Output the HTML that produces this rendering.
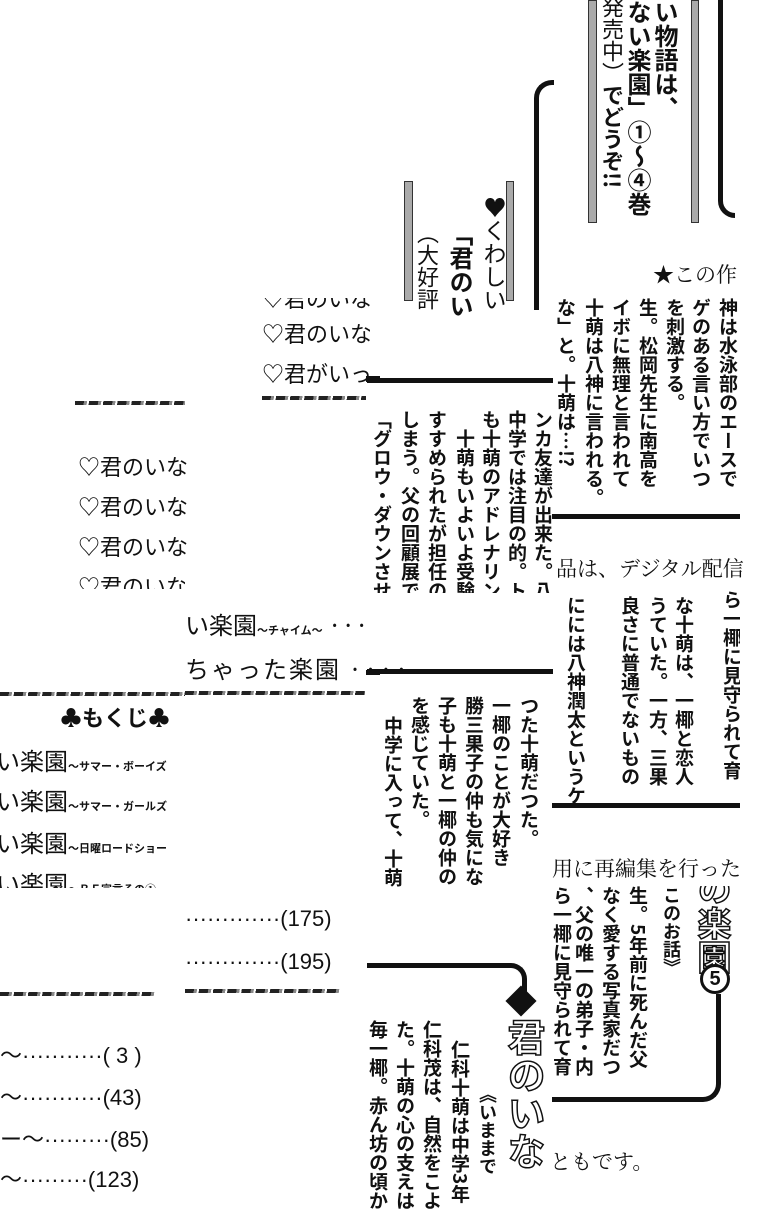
<!DOCTYPE html>
<html><head><meta charset="utf-8">
<style>
body{margin:0;width:760px;height:1200px;background:#fff;position:relative;overflow:hidden;font-family:"Liberation Sans","Noto Sans CJK JP",sans-serif;color:#111}
.a{position:absolute;white-space:nowrap}
.v{position:absolute;writing-mode:vertical-rl;white-space:nowrap;font-family:"Noto Sans CJK JP",sans-serif;font-weight:700;font-size:19px;line-height:20px}
.bar{position:absolute;background:#aaa;border:1px solid #333;box-sizing:border-box}
.dash{position:absolute;height:4px;background:repeating-linear-gradient(100deg,#222 0 9px,#888 9px 12px,#fff 12px 14px)}
.h{position:absolute;background:#111}
.l{font-size:22px;font-family:"Noto Sans CJK JP",sans-serif}
.t{font-size:24px;font-family:"Noto Sans CJK JP",sans-serif}
.serif{font-family:"Noto Serif CJK SC","Liberation Serif",serif;font-size:21px}
.sm{font-size:11px;font-weight:700}
</style></head><body>

<!-- top right panel -->
<div class="bar" style="left:588px;top:0;width:9px;height:223px"></div>
<div class="bar" style="left:691px;top:0;width:8px;height:223px"></div>
<div class="v" style="left:652px;top:0;font-weight:700;font-size:24px;line-height:28px">い物語は、</div>
<div class="v" style="left:625px;top:0;font-weight:700;font-size:24px;line-height:28px">ない楽園」①〜④巻</div>
<div class="v" style="left:600px;top:-4px;font-size:22px;line-height:26px;font-weight:400">発売中）<b>でどうぞ!!</b></div>
<div class="a" style="left:718px;top:0;width:17px;height:218px;border-bottom:5px solid #111;border-left:5px solid #111;border-bottom-left-radius:18px;box-sizing:border-box"></div>

<div class="a" style="left:534px;top:80px;width:20px;height:230px;border-left:5px solid #111;border-top:5px solid #111;border-top-left-radius:18px;box-sizing:border-box"></div>
<div class="bar" style="left:404px;top:181px;width:9px;height:120px"></div>
<div class="bar" style="left:506px;top:181px;width:8px;height:120px"></div>
<div class="v" style="left:482px;top:196px;font-size:23px;line-height:26px;font-weight:400">♥くわしい</div>
<div class="v" style="left:447px;top:222px;font-weight:700;font-size:24px;line-height:28px">「君のい</div>
<div class="v" style="left:416px;top:222px;font-size:22px;line-height:24px;font-weight:400">（大好評</div>
<div class="a serif" style="left:653px;top:259px">★この作</div>

<!-- list tile upper -->
<div class="a" style="left:258px;top:298px;width:112px;height:100px;background:#fff;overflow:hidden">
<div class="a l" style="left:4px;top:-16px">♡君のいな</div>
<div class="a l" style="left:4px;top:19px">♡君のいな</div>
<div class="a l" style="left:4px;top:59px">♡君がいっ</div>
</div>
<div class="dash" style="left:262px;top:396px;width:104px"></div>
<div class="h" style="left:366px;top:376px;width:14px;height:6px"></div>
<div class="dash" style="left:75px;top:401px;width:110px"></div>
<div class="a l" style="left:78px;top:450px">♡君のいな</div>
<div class="a l" style="left:78px;top:490px">♡君のいな</div>
<div class="a l" style="left:78px;top:530px">♡君のいな</div>
<div class="a" style="left:75px;top:565px;width:110px;height:24px;overflow:hidden"><div class="a l" style="left:3px;top:5px">♡君のいな</div></div>

<!-- middle column tile -->
<div class="h" style="left:367px;top:378px;width:186px;height:5px"></div>
<div class="a" style="left:367px;top:385px;width:186px;height:208px;overflow:hidden">
<div class="v" style="left:166px;top:25px">ンカ友達が出来た。八</div>
<div class="v" style="left:140px;top:25px">中学では注目の的。ト</div>
<div class="v" style="left:114px;top:25px">も十萌のアドレナリン</div>
<div class="v" style="left:88px;top:44px">十萌もいよいよ受験</div>
<div class="v" style="left:60px;top:25px">すすめられたが担任の</div>
<div class="v" style="left:33px;top:25px">しまう。父の回顧展で</div>
<div class="v" style="left:5px;top:25px">「グロウ・ダウンさせ</div>
</div>

<!-- right tile upper -->
<div class="a" style="left:552px;top:298px;width:188px;height:217px;overflow:hidden">
<div class="v" style="left:166px;top:0">神は水泳部のエースで</div>
<div class="v" style="left:139px;top:0">ゲのある言い方でいつ</div>
<div class="v" style="left:113px;top:0">を刺激する。</div>
<div class="v" style="left:86px;top:0">生。松岡先生に南高を</div>
<div class="v" style="left:59px;top:0">イボに無理と言われて</div>
<div class="v" style="left:32px;top:0">十萌は八神に言われる。</div>
<div class="v" style="left:4px;top:0">な」と。十萌は…!?</div>
</div>
<div class="h" style="left:552px;top:514px;width:188px;height:5px"></div>
<div class="a serif" style="left:556px;top:553px">品は、デジタル配信</div>

<!-- right tile middle -->
<div class="a" style="left:552px;top:590px;width:188px;height:215px;overflow:hidden">
<div class="v" style="left:170px;top:0">ら一椰に見守られて育</div>
<div class="v" style="left:122px;top:6px">な十萌は、一椰と恋人</div>
<div class="v" style="left:96px;top:6px">うていた。一方、三果</div>
<div class="v" style="left:68px;top:6px">良さに普通でないもの</div>
<div class="v" style="left:14px;top:6px">にには八神潤太というケ</div>
</div>
<div class="h" style="left:552px;top:803px;width:188px;height:5px"></div>
<div class="a serif" style="left:552px;top:853px">用に再編集を行った</div>

<!-- left tile middle -->
<div class="h" style="left:367px;top:669px;width:186px;height:5px"></div>
<div class="a" style="left:367px;top:676px;width:186px;height:212px;overflow:hidden">
<div class="v" style="left:152px;top:20px">つた十萌だつた。</div>
<div class="v" style="left:124px;top:20px">一椰のことが大好き</div>
<div class="v" style="left:97px;top:20px">勝三果子の仲も気にな</div>
<div class="v" style="left:70px;top:20px">子も十萌と一椰の仲の</div>
<div class="v" style="left:43px;top:20px">を感じていた。</div>
<div class="v" style="left:16px;top:40px">中学に入って、十萌</div>
</div>

<!-- right tile lower -->
<div class="a" style="left:552px;top:886px;width:188px;height:218px;overflow:hidden">
<div class="v" style="left:143px;top:-14px;font-size:34px;line-height:38px;color:#fff;-webkit-text-stroke:1.5px #111;font-weight:700">の楽園</div>
<div class="v" style="left:110px;top:0;font-size:18px">このお話》</div>
<div class="v" style="left:76px;top:0">生。5年前に死んだ父</div>
<div class="v" style="left:49px;top:0">なく愛する写真家だつ</div>
<div class="v" style="left:22px;top:0">、父の唯一の弟子・内</div>
<div class="v" style="left:0;top:0">ら一椰に見守られて育</div>
</div>
<div class="a" style="left:700px;top:964px;width:30px;height:30px;border:3px solid #111;border-radius:50%;box-sizing:border-box;text-align:center;font-weight:700;font-size:20px;line-height:24px;background:#fff">5</div>
<div class="a" style="left:552px;top:994px;width:169px;height:108px;border-right:5px solid #111;border-bottom:5px solid #111;border-bottom-right-radius:18px;box-sizing:border-box"></div>
<div class="a serif" style="left:550px;top:1146px">ともです。</div>

<!-- left tile lower -->
<div class="a" style="left:367px;top:963px;width:160px;height:34px;border-top:5px solid #111;border-right:5px solid #111;border-top-right-radius:16px;box-sizing:border-box"></div>
<div class="a" style="left:510px;top:990px;width:22px;height:22px;background:#111;transform:rotate(45deg)"></div>
<div class="v" style="left:505px;top:1018px;font-size:38px;line-height:42px;color:#fff;-webkit-text-stroke:1.5px #111;font-weight:700">君のいな</div>
<div class="v" style="left:478px;top:1085px;font-size:18px">《いままで</div>
<div class="v" style="left:450px;top:1040px">仁科十萌は中学3年</div>
<div class="v" style="left:422px;top:1020px">仁科茂は、自然をこよ</div>
<div class="v" style="left:395px;top:1020px">た。十萌の心の支えは</div>
<div class="v" style="left:368px;top:1020px">毎一椰。赤ん坊の頃か</div>

<!-- TOC -->
<div class="a t" style="left:185px;top:606px">い楽園<span class="sm">〜チャイム〜</span> ···</div>
<div class="a t" style="left:185px;top:650px;letter-spacing:2px">ちゃった楽園 ····</div>
<div class="h" style="left:366px;top:670px;width:14px;height:5px"></div>
<div class="dash" style="left:0;top:692px;width:185px"></div>
<div class="dash" style="left:185px;top:691px;width:180px"></div>
<div class="a" style="left:60px;top:701px;font-size:22px;font-weight:700;font-family:'Noto Sans CJK JP',sans-serif">♣もくじ♣</div>
<div class="a" style="left:0;top:742px;width:185px;height:146px;overflow:hidden">
<div class="a t" style="left:-4px;top:0">い楽園<span class="sm">〜サマー・ボーイズ</span></div>
<div class="a t" style="left:-4px;top:40px">い楽園<span class="sm">〜サマー・ガールズ</span></div>
<div class="a t" style="left:-4px;top:82px">い楽園<span class="sm">〜日曜ロードショー</span></div>
<div class="a t" style="left:-4px;top:123px">い楽園<span class="sm">〜ＢＦ宣言その①</span></div>
</div>
<div class="a" style="left:185px;top:906px;font-size:22px">·············(175)</div>
<div class="a" style="left:185px;top:949px;font-size:22px">·············(195)</div>
<div class="dash" style="left:185px;top:989px;width:155px"></div>
<div class="dash" style="left:0;top:992px;width:155px"></div>
<div class="a" style="left:0;top:1038px;font-size:22px">〜···········( 3 )</div>
<div class="a" style="left:0;top:1080px;font-size:22px">〜···········(43)</div>
<div class="a" style="left:0;top:1122px;font-size:22px">ー〜·········(85)</div>
<div class="a" style="left:0;top:1162px;font-size:22px">〜·········(123)</div>

</body></html>
